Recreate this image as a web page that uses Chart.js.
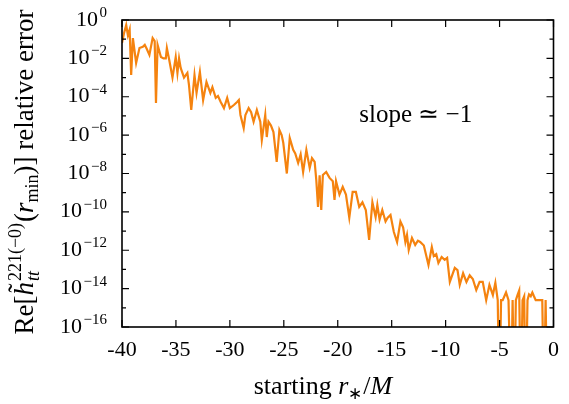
<!DOCTYPE html>
<html>
<head>
<meta charset="utf-8">
<script src="https://cdn.jsdelivr.net/npm/chart.js@4.4.1/dist/chart.umd.min.js"></script>
<style>
  html, body { margin: 0; padding: 0; background: #fff; }
  canvas { display: block; }
</style>
</head>
<body>
<canvas id="errChart" width="569" height="404"></canvas>
<script>
// starting r*/M
const startR = [-40.00,-39.82,-39.61,-39.45,-39.29,-39.15,-38.99,-38.69,-38.38,-38.07,-37.89,-37.71,-37.46,-37.16,-36.97,-36.85,-36.70,-36.39,-36.15,-35.94,
  -35.84,-35.62,-35.32,-35.02,-34.86,-34.71,-34.56,-34.25,-33.94,-33.79,-33.58,-33.28,-33.09,-32.78,-32.48,-32.17,-31.81,-31.62,-31.31,-31.10,
  -30.85,-30.55,-30.25,-30.00,-29.63,-29.33,-29.17,-29.02,-28.72,-28.56,-28.26,-28.03,-27.80,-27.50,-27.18,-27.04,-26.72,-26.58,-26.42,-26.19,
  -25.96,-25.66,-25.41,-25.20,-25.05,-24.72,-24.45,-24.13,-23.94,-23.67,-23.44,-23.21,-22.91,-22.60,-22.39,-22.14,-21.99,-21.83,-21.68,-21.53,
  -21.38,-21.07,-20.76,-20.46,-20.30,-20.16,-19.84,-19.54,-19.24,-18.93,-18.62,-18.32,-18.01,-17.71,-17.40,-17.09,-16.79,-16.49,-16.33,-16.12,
  -15.87,-15.57,-15.37,-15.11,-14.80,-14.50,-14.19,-13.94,-13.73,-13.58,-13.42,-13.12,-12.82,-12.57,-12.36,-12.02,-11.59,-11.28,-11.10,-10.87,
  -10.67,-10.37,-10.09,-9.86,-9.61,-9.15,-8.90,-8.69,-8.38,-8.07,-7.77,-7.48,-7.16,-6.85,-6.56,-6.24,-5.94,-5.62,-5.39,-5.17,
  -5.02,-4.86,-4.71,-4.40,-4.17,-3.94,-3.79,-3.64,-3.49,-3.33,-3.18,-3.03,-2.87,-2.72,-2.57,-2.41,-2.27,-2.11,-1.96,-1.81,
  -1.65,-1.35,-1.04,-0.89,-0.73,-0.58];

// log10 of the relative error (-20 = dropped below the plot floor)
const logError = [-1.2,-0.7,-0.26,-0.8,-0.5,-2.87,-0.94,-2.24,-1.46,-1.4,-1.3,-1.5,-1.82,-0.94,-1.1,-4.33,-1.3,-1.93,-2.0,-2.0,
  -1.46,-2.08,-3.0,-1.93,-2.76,-2.0,-2.5,-3.0,-2.76,-3.39,-4.69,-2.87,-3.8,-2.7,-4.17,-3.23,-3.8,-3.5,-4.06,-3.96,
  -4.27,-4.59,-4.06,-4.59,-4.43,-4.27,-4.17,-4.95,-5.63,-4.95,-4.59,-4.8,-5.3,-4.69,-5.3,-6.25,-4.95,-6.1,-5.3,-5.5,
  -5.84,-7.4,-5.73,-6.0,-6.4,-8.0,-6.15,-6.77,-6.95,-7.45,-7.0,-7.92,-6.77,-7.71,-7.2,-7.4,-8.34,-9.74,-8.1,-9.9,
  -8.08,-7.92,-8.23,-8.4,-9.38,-8.4,-9.1,-8.7,-9.1,-10.3,-8.96,-8.96,-9.74,-9.5,-9.9,-11.46,-9.5,-10.27,-9.64,-10.4,
  -9.9,-10.5,-10.3,-10.16,-11.05,-11.57,-10.5,-10.8,-11.57,-11.2,-11.98,-11.36,-11.72,-11.5,-11.57,-11.75,-12.77,-11.83,-12.3,-12.2,
  -12.66,-12.35,-12.5,-12.4,-13.65,-12.92,-13.03,-13.8,-13.2,-13.65,-13.3,-13.5,-14.07,-13.65,-13.65,-14.6,-13.8,-14.33,-13.7,-14.6,
  -20,-14.6,-14.6,-14.2,-14.6,-20,-14.6,-20,-14.6,-14.33,-14.1,-20,-14.6,-14.4,-20,-14.6,-14.3,-14.4,-14.2,-14.4,
  -14.6,-14.6,-14.6,-20,-14.6,-20];

const xTickValues = [-40, -35, -30, -25, -20, -15, -10, -5, 0];
const yTickExps = [0, -2, -4, -6, -8, -10, -12, -14, -16];
const yMinorExps = [-1, -3, -5, -7, -9, -11, -13, -15];

const lineColor = "#f5830f";
const serif = '"Liberation Serif", "Times New Roman", serif';
const R = size => `${size}px ${serif}`;
const I = size => `italic ${size}px ${serif}`;

const points = [];
for (let i = 0; i < Math.min(startR.length, logError.length); i++) {
    points.push({ x: startR[i], y: Math.pow(10, logError[i]) });
}

// draws pieces of text one after another; returns total advance
function textRun(ctx, x, y, pieces, draw) {
    let cx = x, held = 0;
    pieces.forEach(p => {
        ctx.font = p.f;
        const w = ctx.measureText(p.t).width;
        if (draw) ctx.fillText(p.t, cx + (p.dx || 0), y + (p.dy || 0));
        if (p.zero) return;
        if (p.hold) { held = w; return; }
        cx += Math.max(w, held) + (p.kern || 0);
        held = 0;
    });
    return cx - x;
}

const framePlugin = {
    id: "frame",
    afterDatasetsDraw(chart) {
        const ctx = chart.ctx;
        const a = chart.chartArea;
        const xs = chart.scales.x, ys = chart.scales.y;
        ctx.save();
        ctx.strokeStyle = "#000";
        ctx.fillStyle = "#000";

        // ticks (inward, on all four sides)
        ctx.lineWidth = 1.2;
        ctx.beginPath();
        xTickValues.forEach(v => {
            const px = xs.getPixelForValue(v);
            ctx.moveTo(px, a.bottom); ctx.lineTo(px, a.bottom - 7);
            ctx.moveTo(px, a.top); ctx.lineTo(px, a.top + 7);
        });
        yTickExps.forEach(e => {
            const py = ys.getPixelForValue(Math.pow(10, e));
            ctx.moveTo(a.left, py); ctx.lineTo(a.left + 7, py);
            ctx.moveTo(a.right, py); ctx.lineTo(a.right - 7, py);
        });
        yMinorExps.forEach(e => {
            const py = ys.getPixelForValue(Math.pow(10, e));
            ctx.moveTo(a.left, py); ctx.lineTo(a.left + 4, py);
            ctx.moveTo(a.right, py); ctx.lineTo(a.right - 4, py);
        });
        ctx.stroke();

        // frame
        ctx.lineWidth = 1.6;
        ctx.strokeRect(a.left, a.top, a.right - a.left, a.bottom - a.top);

        // y tick labels 10^n
        ctx.textBaseline = "alphabetic";
        ctx.textAlign = "left";
        yTickExps.forEach(e => {
            const py = ys.getPixelForValue(Math.pow(10, e));
            const sup = e === 0 ? "0" : "\u2212" + (-e);
            ctx.font = R(15);
            const sw = ctx.measureText(sup).width;
            ctx.font = R(22);
            const bw = ctx.measureText("10").width;
            const right = a.left - 15;
            ctx.fillText("10", right - sw - 1.5 - bw, py + 5.5);
            ctx.font = R(15);
            ctx.fillText(sup, right - sw, py - 3);
        });

        // x axis title
        const xt = [
            { t: "starting ", f: R(26) },
            { t: "r", f: I(26) },
            { t: "\u2217", f: R(17), dy: 5, kern: 1 },
            { t: "/", f: R(26) },
            { t: "M", f: I(26) }
        ];
        const xw = textRun(ctx, 0, 0, xt, false);
        textRun(ctx, 323 - xw / 2, 394, xt, true);

        // y axis title, rotated
        const yt = [
            { t: "Re[", f: R(27) },
            { t: "\u02DC", f: R(27), dx: 3, dy: -6, zero: true },
            { t: "h", f: I(27), kern: 1 },
            { t: "tt", f: I(18), dy: 6, hold: true },
            { t: "221(\u22120)", f: R(18), dy: -12, kern: 1 },
            { t: "(", f: R(27) },
            { t: "r", f: I(27) },
            { t: "min", f: R(18), dy: 5 },
            { t: ")] relative error", f: R(27) }
        ];
        const yw = textRun(ctx, 0, 0, yt, false);
        ctx.translate(33, 172);
        ctx.rotate(-Math.PI / 2);
        textRun(ctx, -yw / 2, 0, yt, true);
        ctx.restore();

        // annotation
        ctx.save();
        ctx.fillStyle = "#000";
        ctx.font = R(25);
        ctx.textBaseline = "alphabetic";
        ctx.fillText("slope \u2243 \u22121", xs.getPixelForValue(-18), ys.getPixelForValue(Math.pow(10, -5.3)));
        ctx.restore();
    }
};

new Chart(document.getElementById("errChart").getContext("2d"), {
    type: "line",
    data: {
        datasets: [{
            data: points,
            borderColor: lineColor,
            borderWidth: 2.2,
            pointRadius: 0,
            tension: 0,
            fill: false
        }]
    },
    options: {
        responsive: false,
        animation: false,
        layout: { padding: { top: 20, right: 11, left: 0, bottom: 0 } },
        plugins: { legend: { display: false }, tooltip: { enabled: false } },
        scales: {
            x: {
                type: "linear",
                min: -40,
                max: 0,
                afterBuildTicks: s => { s.ticks = xTickValues.map(v => ({ value: v })); },
                afterFit: s => { s.height = 77; },
                ticks: {
                    color: "#000",
                    font: { family: serif, size: 22 },
                    padding: 10,
                    maxRotation: 0,
                    callback: v => String(v)
                },
                grid: { display: false, drawTicks: false },
                border: { display: false }
            },
            y: {
                type: "logarithmic",
                min: 1e-16,
                max: 1,
                afterFit: s => { s.width = 122; },
                ticks: { display: false },
                grid: { display: false, drawTicks: false },
                border: { display: false }
            }
        }
    },
    plugins: [framePlugin]
});
</script>
</body>
</html>
